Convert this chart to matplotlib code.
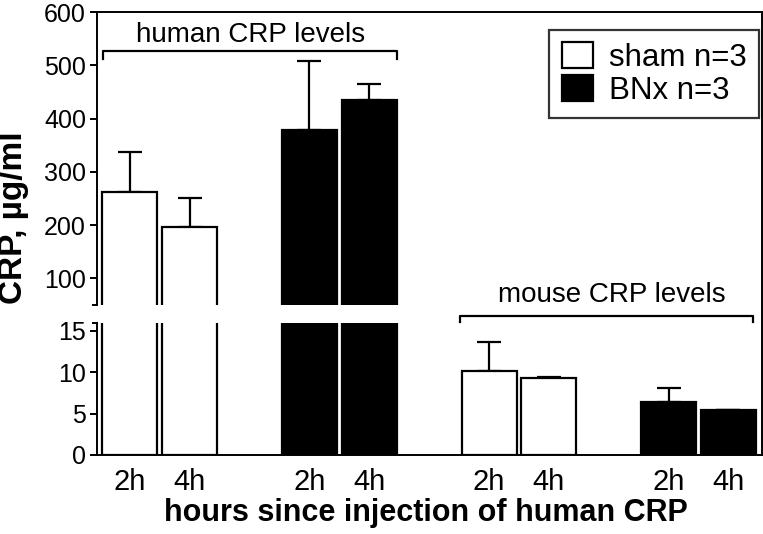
import numpy as np
import matplotlib
matplotlib.use("Agg")
import matplotlib.pyplot as plt
from matplotlib.lines import Line2D
from matplotlib.patches import Patch

plt.rcParams['font.family'] = ['Liberation Sans', 'DejaVu Sans']

# data: human CRP (top panel) and mouse CRP (bottom panel), ug/ml
time_labels = ['2h', '4h', '2h', '4h', '2h', '4h', '2h', '4h']
groups = ['sham', 'sham', 'BNx', 'BNx', 'sham', 'sham', 'BNx', 'BNx']
human_crp = [262, 196, 378, 434]
human_err = [76, 55, 130, 31]
mouse_crp = [10.2, 9.35, 6.4, 5.4]
mouse_err = [3.5, 0.1, 1.75, 0.05]

values = human_crp + mouse_crp
errors = human_err + mouse_err
xpos = np.array([0, 1, 3, 4, 6, 7, 9, 10])
colors = ['white' if g == 'sham' else 'black' for g in groups]

W, H = 763, 534
fig = plt.figure(figsize=(W / 100, H / 100), dpi=100)

left, right = 97 / W, 762 / W
ax_top = fig.add_axes([left, 1 - 305 / H, right - left, (305 - 12) / H])
ax_bot = fig.add_axes([left, 1 - 455 / H, right - left, (455 - 322.7) / H])

for ax in (ax_top, ax_bot):
    ax.bar(xpos, values, width=0.92, color=colors, edgecolor='black',
           linewidth=1.6, zorder=2)
    ax.errorbar(xpos, values, yerr=[np.zeros(len(errors)), errors], fmt='none',
                ecolor='black', elinewidth=1.6, capsize=8.5, capthick=1.6, zorder=1)
    ax.set_xlim(-0.55, 10.56)
    ax.spines['right'].set_visible(False)
    for s in ax.spines.values():
        s.set_linewidth(1.4)
        s.set_color('black')
    ax.tick_params(axis='y', labelsize=18, length=5, width=1.4, pad=3)

ax_top.set_ylim(50, 600)
ax_top.set_yticks([100, 200, 300, 400, 500, 600])
ax_top.spines['bottom'].set_visible(False)
ax_top.set_xticks([])

ax_bot.set_ylim(0, 16)
ax_bot.set_yticks([0, 5, 10, 15])
ax_bot.spines['top'].set_visible(False)
ax_bot.set_xticks(xpos)
ax_bot.set_xticklabels(time_labels, fontsize=21)
ax_bot.tick_params(axis='x', length=0, pad=9)

# right frame line running across the break
fig.add_artist(Line2D([right, right], [1 - 455 / H, 1 - 12 / H],
                      transform=fig.transFigure, color='black', linewidth=1.4))
# small end marks of the broken left axis
fig.add_artist(Line2D([93 / W, left], [1 - 305 / H, 1 - 305 / H],
                      transform=fig.transFigure, color='black', linewidth=1.4))
fig.add_artist(Line2D([93 / W, left], [1 - 322.7 / H, 1 - 322.7 / H],
                      transform=fig.transFigure, color='black', linewidth=1.4))

# brackets
ax_top.plot([-0.45, -0.45, 4.46, 4.46], [511, 526, 526, 511], color='black',
            linewidth=1.6, clip_on=False)
ax_top.text(2.02, 544, 'human CRP levels', ha='center', va='baseline', fontsize=20)
ax_bot.plot([5.51, 5.51, 10.41, 10.41], [16.05, 16.8, 16.8, 16.05], color='black',
            linewidth=1.6, clip_on=False)
ax_bot.text(8.05, 18.5, 'mouse CRP levels', ha='center', va='baseline', fontsize=20)

# legend
handles = [Patch(facecolor='white', edgecolor='black', linewidth=1.6, label='sham n=3'),
           Patch(facecolor='black', edgecolor='black', linewidth=1.6, label='BNx n=3')]
leg = ax_top.legend(handles=handles, loc='upper right', bbox_to_anchor=(0.9955, 0.9386),
                    borderaxespad=0, fontsize=22.5, frameon=True, fancybox=False,
                    handlelength=1.0, handleheight=0.9, handletextpad=0.5,
                    labelspacing=0.05, borderpad=0.4)
leg.get_frame().set_edgecolor('black')
leg.get_frame().set_linewidth(1.6)

fig.text(426 / W, 1 - 521 / H, 'hours since injection of human CRP', ha='center',
         va='baseline', fontsize=22, fontweight='bold')
fig.text(14 / W, 1 - 218 / H, 'CRP, µg/ml', ha='center', va='center', rotation=90,
         fontsize=24, fontweight='bold')

fig.savefig('out.png', dpi=100)
